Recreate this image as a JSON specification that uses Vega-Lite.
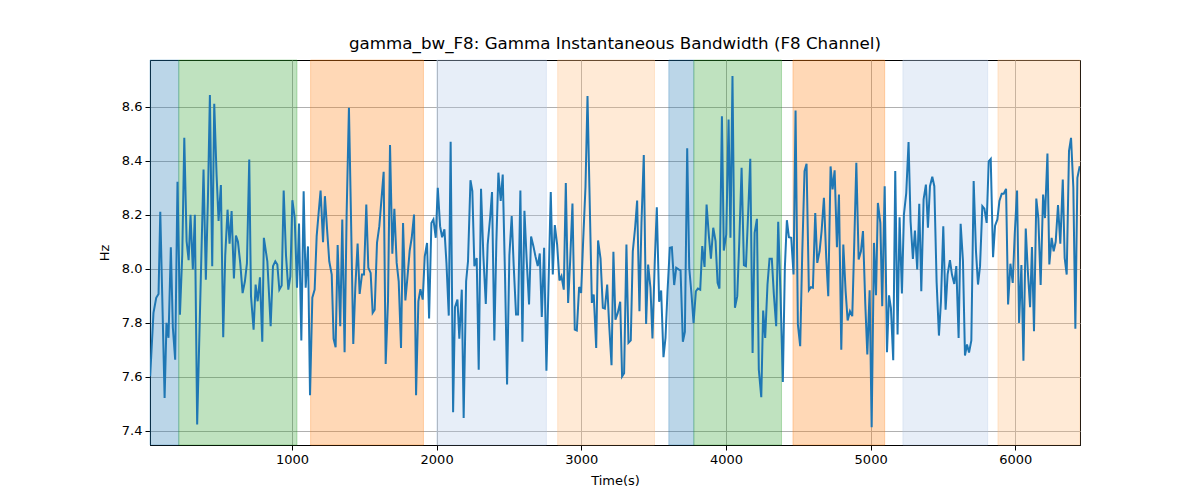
{
  "$schema": "https://vega.github.io/schema/vega-lite/v6.json",
  "autosize": {"type": "none"},
  "width": 930,
  "height": 385,
  "padding": {"left": 150, "top": 60, "right": 120, "bottom": 55},
  "background": "#ffffff",
  "title": {
    "text": "gamma_bw_F8: Gamma Instantaneous Bandwidth (F8 Channel)",
    "font": "DejaVu Sans",
    "fontSize": 16.7,
    "fontWeight": "normal",
    "color": "#000000",
    "anchor": "middle",
    "offset": 7
  },
  "config": {
    "font": "DejaVu Sans",
    "view": {"stroke": "#000000", "strokeWidth": 1},
    "axis": {
      "domainColor": "#000000",
      "tickColor": "#000000",
      "tickSize": 5,
      "labelColor": "#000000",
      "labelFontSize": 13,
      "labelFont": "DejaVu Sans",
      "titleFont": "DejaVu Sans",
      "titleFontSize": 13,
      "titleFontWeight": "normal",
      "titleColor": "#000000",
      "gridColor": "#b0b0b0",
      "gridWidth": 1,
      "gridOpacity": 1
    }
  },
  "datasets": {
    "bands": [
      {"t": 19, "t_end": 218, "state": "s1"},
      {"t": 218, "t_end": 1035, "state": "s2"},
      {"t": 1129, "t_end": 1909, "state": "s3"},
      {"t": 2001, "t_end": 2759, "state": "s4"},
      {"t": 2837, "t_end": 3506, "state": "s5"},
      {"t": 3605, "t_end": 3778, "state": "s1"},
      {"t": 3778, "t_end": 4384, "state": "s2"},
      {"t": 4463, "t_end": 5097, "state": "s3"},
      {"t": 5223, "t_end": 5809, "state": "s4"},
      {"t": 5880, "t_end": 6447, "state": "s5"}
    ],
    "series": [
      {"t": 20, "v": 7.602}, {"t": 43, "v": 7.837}, {"t": 62, "v": 7.893}, {"t": 78, "v": 7.907},
      {"t": 90, "v": 8.211}, {"t": 120, "v": 7.522}, {"t": 133, "v": 7.8}, {"t": 147, "v": 7.745},
      {"t": 163, "v": 8.08}, {"t": 177, "v": 7.782}, {"t": 193, "v": 7.664}, {"t": 209, "v": 8.322},
      {"t": 226, "v": 7.83}, {"t": 242, "v": 8.053}, {"t": 256, "v": 8.485}, {"t": 272, "v": 8.102},
      {"t": 286, "v": 8.032}, {"t": 299, "v": 8.2}, {"t": 315, "v": 7.998}, {"t": 329, "v": 8.2},
      {"t": 345, "v": 7.424}, {"t": 389, "v": 8.368}, {"t": 405, "v": 7.96}, {"t": 419, "v": 8.25},
      {"t": 433, "v": 8.643}, {"t": 449, "v": 8.01}, {"t": 463, "v": 8.611}, {"t": 479, "v": 8.35},
      {"t": 493, "v": 8.177}, {"t": 509, "v": 8.31}, {"t": 525, "v": 7.747}, {"t": 539, "v": 8.05},
      {"t": 555, "v": 8.219}, {"t": 569, "v": 8.093}, {"t": 583, "v": 8.214}, {"t": 599, "v": 7.964},
      {"t": 613, "v": 8.123}, {"t": 627, "v": 8.1}, {"t": 643, "v": 8.02}, {"t": 659, "v": 7.91},
      {"t": 675, "v": 7.954}, {"t": 689, "v": 8.02}, {"t": 705, "v": 8.405}, {"t": 717, "v": 7.9},
      {"t": 735, "v": 7.775}, {"t": 749, "v": 7.942}, {"t": 763, "v": 7.88}, {"t": 779, "v": 7.969},
      {"t": 795, "v": 7.73}, {"t": 806, "v": 8.115}, {"t": 830, "v": 8.028}, {"t": 853, "v": 7.788},
      {"t": 869, "v": 8.01}, {"t": 885, "v": 8.028}, {"t": 899, "v": 8.016}, {"t": 913, "v": 7.923},
      {"t": 929, "v": 7.938}, {"t": 943, "v": 8.29}, {"t": 959, "v": 8.05}, {"t": 975, "v": 7.923},
      {"t": 989, "v": 7.972}, {"t": 1003, "v": 8.254}, {"t": 1019, "v": 8.19}, {"t": 1035, "v": 7.93},
      {"t": 1049, "v": 8.168}, {"t": 1065, "v": 7.735}, {"t": 1081, "v": 8.287}, {"t": 1095, "v": 7.93},
      {"t": 1111, "v": 8.083}, {"t": 1125, "v": 7.532}, {"t": 1141, "v": 7.893}, {"t": 1157, "v": 7.923},
      {"t": 1171, "v": 8.121}, {"t": 1185, "v": 8.21}, {"t": 1198, "v": 8.29}, {"t": 1215, "v": 8.099},
      {"t": 1228, "v": 8.269}, {"t": 1245, "v": 8.13}, {"t": 1258, "v": 8.028}, {"t": 1275, "v": 7.979},
      {"t": 1288, "v": 7.741}, {"t": 1302, "v": 7.71}, {"t": 1316, "v": 8.088}, {"t": 1334, "v": 7.788},
      {"t": 1348, "v": 8.183}, {"t": 1364, "v": 7.691}, {"t": 1378, "v": 8.2}, {"t": 1394, "v": 8.596},
      {"t": 1408, "v": 8.2}, {"t": 1424, "v": 7.722}, {"t": 1438, "v": 7.93}, {"t": 1454, "v": 8.094},
      {"t": 1468, "v": 7.907}, {"t": 1484, "v": 7.979}, {"t": 1498, "v": 7.979}, {"t": 1514, "v": 8.238},
      {"t": 1528, "v": 8.004}, {"t": 1544, "v": 7.985}, {"t": 1558, "v": 7.837}, {"t": 1572, "v": 7.849},
      {"t": 1588, "v": 8.096}, {"t": 1604, "v": 8.158}, {"t": 1634, "v": 8.359}, {"t": 1648, "v": 7.648},
      {"t": 1664, "v": 7.88}, {"t": 1678, "v": 8.458}, {"t": 1694, "v": 8.056}, {"t": 1708, "v": 8.222},
      {"t": 1724, "v": 8.022}, {"t": 1738, "v": 7.954}, {"t": 1754, "v": 7.707}, {"t": 1768, "v": 8.17},
      {"t": 1784, "v": 7.883}, {"t": 1798, "v": 7.966}, {"t": 1814, "v": 8.068}, {"t": 1828, "v": 8.115},
      {"t": 1844, "v": 8.201}, {"t": 1858, "v": 7.532}, {"t": 1874, "v": 7.88}, {"t": 1888, "v": 7.925},
      {"t": 1904, "v": 7.886}, {"t": 1918, "v": 8.046}, {"t": 1934, "v": 8.096}, {"t": 1948, "v": 7.816},
      {"t": 1964, "v": 8.17}, {"t": 1978, "v": 8.183}, {"t": 1994, "v": 8.115}, {"t": 2008, "v": 8.3},
      {"t": 2024, "v": 8.158}, {"t": 2038, "v": 8.117}, {"t": 2054, "v": 8.146}, {"t": 2068, "v": 8.022},
      {"t": 2084, "v": 7.827}, {"t": 2097, "v": 8.47}, {"t": 2114, "v": 7.469}, {"t": 2127, "v": 7.858},
      {"t": 2144, "v": 7.886}, {"t": 2157, "v": 7.741}, {"t": 2174, "v": 7.923}, {"t": 2187, "v": 7.448},
      {"t": 2204, "v": 7.954}, {"t": 2217, "v": 8.028}, {"t": 2234, "v": 8.328}, {"t": 2247, "v": 8.288},
      {"t": 2261, "v": 8.01}, {"t": 2277, "v": 8.04}, {"t": 2291, "v": 7.627}, {"t": 2307, "v": 8.296},
      {"t": 2323, "v": 8.05}, {"t": 2340, "v": 7.87}, {"t": 2353, "v": 8.09}, {"t": 2370, "v": 8.19},
      {"t": 2383, "v": 8.284}, {"t": 2399, "v": 7.735}, {"t": 2413, "v": 8.1}, {"t": 2427, "v": 8.356},
      {"t": 2443, "v": 8.251}, {"t": 2457, "v": 8.349}, {"t": 2473, "v": 7.97}, {"t": 2487, "v": 7.572},
      {"t": 2503, "v": 8.05}, {"t": 2519, "v": 8.195}, {"t": 2533, "v": 8.01}, {"t": 2549, "v": 7.831},
      {"t": 2563, "v": 7.831}, {"t": 2579, "v": 8.29}, {"t": 2593, "v": 7.73}, {"t": 2607, "v": 8.215},
      {"t": 2623, "v": 8.028}, {"t": 2639, "v": 7.868}, {"t": 2653, "v": 8.12}, {"t": 2669, "v": 8.084},
      {"t": 2683, "v": 8.047}, {"t": 2699, "v": 8.01}, {"t": 2713, "v": 8.057}, {"t": 2727, "v": 7.822},
      {"t": 2743, "v": 8.078}, {"t": 2759, "v": 7.623}, {"t": 2773, "v": 7.93}, {"t": 2789, "v": 8.284},
      {"t": 2803, "v": 7.979}, {"t": 2817, "v": 8.162}, {"t": 2833, "v": 8.09}, {"t": 2849, "v": 7.957},
      {"t": 2863, "v": 7.973}, {"t": 2879, "v": 7.923}, {"t": 2893, "v": 8.318}, {"t": 2909, "v": 7.874},
      {"t": 2923, "v": 8.028}, {"t": 2939, "v": 8.242}, {"t": 2955, "v": 7.775}, {"t": 2969, "v": 7.772},
      {"t": 2985, "v": 7.933}, {"t": 2999, "v": 7.911}, {"t": 3013, "v": 8.105}, {"t": 3029, "v": 8.303},
      {"t": 3043, "v": 8.64}, {"t": 3056, "v": 8.303}, {"t": 3073, "v": 7.874}, {"t": 3086, "v": 7.905},
      {"t": 3103, "v": 7.707}, {"t": 3116, "v": 8.105}, {"t": 3133, "v": 8.038}, {"t": 3149, "v": 7.856},
      {"t": 3163, "v": 7.853}, {"t": 3179, "v": 7.942}, {"t": 3192, "v": 7.8}, {"t": 3209, "v": 7.643},
      {"t": 3222, "v": 8.063}, {"t": 3236, "v": 7.812}, {"t": 3252, "v": 7.837}, {"t": 3269, "v": 7.878},
      {"t": 3282, "v": 7.602}, {"t": 3296, "v": 7.614}, {"t": 3312, "v": 8.09}, {"t": 3326, "v": 7.726},
      {"t": 3342, "v": 7.735}, {"t": 3356, "v": 8.065}, {"t": 3372, "v": 8.152}, {"t": 3386, "v": 8.253},
      {"t": 3402, "v": 7.843}, {"t": 3416, "v": 8.17}, {"t": 3432, "v": 8.421}, {"t": 3448, "v": 7.796},
      {"t": 3462, "v": 8.016}, {"t": 3478, "v": 7.93}, {"t": 3492, "v": 7.742}, {"t": 3508, "v": 8.028},
      {"t": 3522, "v": 8.228}, {"t": 3538, "v": 7.878}, {"t": 3552, "v": 7.92}, {"t": 3568, "v": 7.673},
      {"t": 3582, "v": 7.744}, {"t": 3596, "v": 7.917}, {"t": 3612, "v": 8.078}, {"t": 3626, "v": 8.08},
      {"t": 3642, "v": 7.94}, {"t": 3656, "v": 8.004}, {"t": 3672, "v": 7.998}, {"t": 3686, "v": 7.994},
      {"t": 3702, "v": 7.73}, {"t": 3716, "v": 7.767}, {"t": 3732, "v": 8.446}, {"t": 3746, "v": 8.004},
      {"t": 3762, "v": 7.905}, {"t": 3776, "v": 7.8}, {"t": 3792, "v": 7.917}, {"t": 3806, "v": 7.927},
      {"t": 3822, "v": 7.923}, {"t": 3836, "v": 8.084}, {"t": 3852, "v": 8.007}, {"t": 3866, "v": 8.238},
      {"t": 3882, "v": 8.121}, {"t": 3896, "v": 8.038}, {"t": 3912, "v": 8.152}, {"t": 3928, "v": 8.103},
      {"t": 3942, "v": 7.948}, {"t": 3955, "v": 7.927}, {"t": 3972, "v": 8.565}, {"t": 3985, "v": 8.068},
      {"t": 4002, "v": 8.127}, {"t": 4018, "v": 8.553}, {"t": 4031, "v": 8.115}, {"t": 4045, "v": 8.714},
      {"t": 4062, "v": 7.856}, {"t": 4078, "v": 7.899}, {"t": 4092, "v": 8.1}, {"t": 4108, "v": 8.374},
      {"t": 4124, "v": 8.014}, {"t": 4138, "v": 8.01}, {"t": 4154, "v": 8.214}, {"t": 4168, "v": 8.407},
      {"t": 4184, "v": 7.689}, {"t": 4198, "v": 8.133}, {"t": 4214, "v": 8.185}, {"t": 4227, "v": 7.627},
      {"t": 4244, "v": 7.525}, {"t": 4257, "v": 7.846}, {"t": 4271, "v": 7.744}, {"t": 4287, "v": 7.942},
      {"t": 4301, "v": 8.037}, {"t": 4317, "v": 8.037}, {"t": 4331, "v": 7.905}, {"t": 4347, "v": 7.788},
      {"t": 4361, "v": 8.174}, {"t": 4377, "v": 7.905}, {"t": 4393, "v": 7.581}, {"t": 4407, "v": 8.004},
      {"t": 4421, "v": 8.18}, {"t": 4435, "v": 8.117}, {"t": 4451, "v": 8.115}, {"t": 4467, "v": 7.979},
      {"t": 4481, "v": 8.586}, {"t": 4497, "v": 7.794}, {"t": 4513, "v": 7.714}, {"t": 4527, "v": 8.053},
      {"t": 4543, "v": 8.362}, {"t": 4557, "v": 8.389}, {"t": 4573, "v": 7.921}, {"t": 4587, "v": 7.932},
      {"t": 4601, "v": 7.93}, {"t": 4617, "v": 8.207}, {"t": 4631, "v": 8.022}, {"t": 4647, "v": 8.065},
      {"t": 4661, "v": 8.14}, {"t": 4677, "v": 8.263}, {"t": 4693, "v": 8.041}, {"t": 4707, "v": 7.899},
      {"t": 4723, "v": 8.379}, {"t": 4737, "v": 8.294}, {"t": 4751, "v": 8.365}, {"t": 4767, "v": 8.08},
      {"t": 4781, "v": 8.275}, {"t": 4797, "v": 7.701}, {"t": 4811, "v": 8.09}, {"t": 4827, "v": 7.917},
      {"t": 4841, "v": 7.809}, {"t": 4857, "v": 7.843}, {"t": 4873, "v": 7.825}, {"t": 4887, "v": 8.1},
      {"t": 4901, "v": 8.393}, {"t": 4917, "v": 8.035}, {"t": 4933, "v": 8.065}, {"t": 4947, "v": 8.14},
      {"t": 4963, "v": 7.869}, {"t": 4977, "v": 7.683}, {"t": 4993, "v": 7.921}, {"t": 5007, "v": 7.414},
      {"t": 5023, "v": 8.096}, {"t": 5037, "v": 7.902}, {"t": 5050, "v": 8.244}, {"t": 5067, "v": 8.17},
      {"t": 5080, "v": 7.862}, {"t": 5097, "v": 8.306}, {"t": 5113, "v": 7.691}, {"t": 5127, "v": 7.902},
      {"t": 5140, "v": 7.856}, {"t": 5156, "v": 7.662}, {"t": 5170, "v": 8.362}, {"t": 5186, "v": 7.757},
      {"t": 5200, "v": 8.191}, {"t": 5216, "v": 7.909}, {"t": 5230, "v": 8.201}, {"t": 5246, "v": 8.28},
      {"t": 5262, "v": 8.469}, {"t": 5276, "v": 8.175}, {"t": 5292, "v": 8.037}, {"t": 5306, "v": 8.142},
      {"t": 5322, "v": 7.998}, {"t": 5336, "v": 8.241}, {"t": 5350, "v": 7.917}, {"t": 5366, "v": 8.257},
      {"t": 5382, "v": 8.312}, {"t": 5396, "v": 8.152}, {"t": 5410, "v": 8.306}, {"t": 5426, "v": 8.341},
      {"t": 5440, "v": 8.306}, {"t": 5456, "v": 7.95}, {"t": 5472, "v": 7.753}, {"t": 5486, "v": 7.88},
      {"t": 5502, "v": 8.158}, {"t": 5518, "v": 7.849}, {"t": 5532, "v": 7.98}, {"t": 5548, "v": 8.032},
      {"t": 5562, "v": 7.979}, {"t": 5578, "v": 7.944}, {"t": 5592, "v": 8.01}, {"t": 5608, "v": 7.744},
      {"t": 5622, "v": 8.167}, {"t": 5638, "v": 8.03}, {"t": 5652, "v": 7.679}, {"t": 5666, "v": 7.72},
      {"t": 5680, "v": 7.69}, {"t": 5696, "v": 7.735}, {"t": 5712, "v": 8.325}, {"t": 5728, "v": 8.065},
      {"t": 5742, "v": 7.942}, {"t": 5756, "v": 8.01}, {"t": 5772, "v": 8.232}, {"t": 5786, "v": 8.223},
      {"t": 5802, "v": 8.17}, {"t": 5816, "v": 8.398}, {"t": 5830, "v": 8.407}, {"t": 5846, "v": 8.043},
      {"t": 5860, "v": 8.16}, {"t": 5876, "v": 8.183}, {"t": 5890, "v": 8.251}, {"t": 5906, "v": 8.278},
      {"t": 5920, "v": 8.278}, {"t": 5936, "v": 8.296}, {"t": 5950, "v": 7.868}, {"t": 5966, "v": 8.019},
      {"t": 5982, "v": 7.948}, {"t": 5996, "v": 8.13}, {"t": 6012, "v": 8.29}, {"t": 6026, "v": 7.8},
      {"t": 6042, "v": 8.014}, {"t": 6056, "v": 7.66}, {"t": 6072, "v": 8.149}, {"t": 6086, "v": 7.995},
      {"t": 6102, "v": 7.858}, {"t": 6115, "v": 8.081}, {"t": 6129, "v": 7.769}, {"t": 6145, "v": 8.26},
      {"t": 6159, "v": 8.188}, {"t": 6175, "v": 7.94}, {"t": 6192, "v": 8.275}, {"t": 6205, "v": 8.188},
      {"t": 6222, "v": 8.427}, {"t": 6235, "v": 8.016}, {"t": 6251, "v": 8.115}, {"t": 6265, "v": 8.065},
      {"t": 6279, "v": 8.1}, {"t": 6295, "v": 8.236}, {"t": 6311, "v": 8.093}, {"t": 6328, "v": 8.331},
      {"t": 6341, "v": 8.04}, {"t": 6355, "v": 7.979}, {"t": 6371, "v": 8.436}, {"t": 6385, "v": 8.485},
      {"t": 6401, "v": 8.3}, {"t": 6415, "v": 7.778}, {"t": 6429, "v": 8.337}, {"t": 6445, "v": 8.38}
    ]
  },
  "layer": [
    {
      "data": {"name": "bands"},
      "mark": {"type": "rect", "fillOpacity": 0.3, "strokeOpacity": 0.3, "strokeWidth": 1},
      "encoding": {
        "x": {"field": "t", "type": "quantitative"},
        "x2": {"field": "t_end"},
        "color": {
          "field": "state",
          "type": "nominal",
          "scale": {"domain": ["s1", "s2", "s3", "s4", "s5"], "range": ["#1f77b4", "#2ca02c", "#ff7f0e", "#aec7e8", "#ffbb78"]},
          "legend": null
        },
        "stroke": {
          "field": "state",
          "type": "nominal",
          "scale": {"domain": ["s1", "s2", "s3", "s4", "s5"], "range": ["#1f77b4", "#2ca02c", "#ff7f0e", "#aec7e8", "#ffbb78"]},
          "legend": null
        }
      }
    },
    {
      "data": {"name": "series"},
      "mark": {"type": "line", "color": "#1f77b4", "strokeWidth": 2, "clip": true},
      "encoding": {
        "x": {
          "field": "t",
          "type": "quantitative",
          "scale": {"domain": [19, 6447], "nice": false, "zero": false},
          "axis": {"title": "Time(s)", "values": [1000, 2000, 3000, 4000, 5000, 6000], "format": "d", "grid": true, "titlePadding": 8, "labelPadding": 3}
        },
        "y": {
          "field": "v",
          "type": "quantitative",
          "scale": {"domain": [7.348, 8.773], "nice": false, "zero": false},
          "axis": {"title": "Hz", "values": [7.4, 7.6, 7.8, 8.0, 8.2, 8.4, 8.6], "format": ".1f", "grid": true, "titlePadding": 10, "labelPadding": 3}
        }
      }
    }
  ]
}
